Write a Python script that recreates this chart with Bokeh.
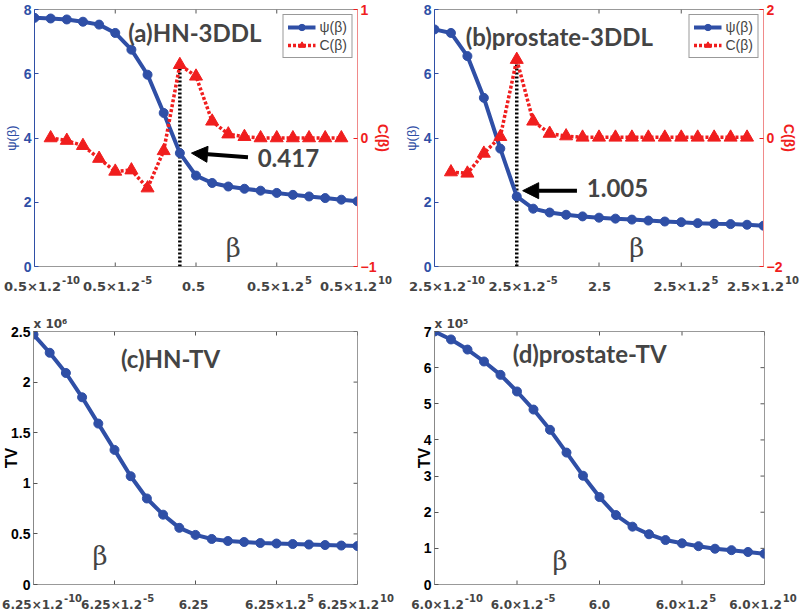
from bokeh.plotting import figure
from bokeh.models import (Range1d, LinearAxis, FixedTicker, Arrow, NormalHead, Label,
                          Legend, LegendItem, NumeralTickFormatter)
from bokeh.layouts import column, row
from bokeh.embed import file_html
from bokeh.resources import INLINE

# ---------------- data ----------------
exps = list(range(-10, 11))          # beta = base * 1.2**exp
c_exps = list(range(-9, 10))
tick_exps = [-10, -5, 0, 5, 10]

hn_psi = [7.74, 7.72, 7.69, 7.62, 7.53, 7.27, 6.75, 5.97, 4.78, 3.53, 2.83,
          2.60, 2.49, 2.42, 2.36, 2.29, 2.23, 2.18, 2.13, 2.08, 2.03]
hn_c = [0.0, -0.02, -0.06, -0.16, -0.26, -0.25, -0.39, -0.10, 0.57, 0.48,
        0.13, 0.03, 0.01, 0.0, 0.0, 0.0, 0.0, 0.0, 0.0]
pr_psi = [7.38, 7.27, 6.55, 5.25, 3.67, 2.18, 1.80, 1.68, 1.61, 1.56, 1.52,
          1.49, 1.46, 1.43, 1.40, 1.38, 1.35, 1.33, 1.32, 1.30, 1.27]
pr_c = [-0.53, -0.55, -0.24, 0.02, 1.22, 0.26, 0.07, 0.03, 0.01, 0.01,
        0.01, 0.01, 0.01, 0.01, 0.01, 0.01, 0.01, 0.01, 0.01]
hn_tv = [2.47, 2.29, 2.09, 1.85, 1.59, 1.33, 1.07, 0.85, 0.69, 0.56, 0.49,
         0.45, 0.43, 0.42, 0.41, 0.405, 0.40, 0.395, 0.39, 0.385, 0.38]   # x 10^6
pr_tv = [7.0, 6.78, 6.50, 6.17, 5.80, 5.34, 4.84, 4.28, 3.65, 3.01, 2.42,
         1.92, 1.60, 1.39, 1.23, 1.14, 1.06, 0.99, 0.95, 0.90, 0.85]      # x 10^5

# tick labels: "base^exponent"
hn3_ticks = ["0.5×1.2^-10", "0.5×1.2^-5", "0.5", "0.5×1.2^5", "0.5×1.2^10"]
pr3_ticks = ["2.5×1.2^-10", "2.5×1.2^-5", "2.5", "2.5×1.2^5", "2.5×1.2^10"]
hntv_ticks = ["6.25×1.2^-10", "6.25×1.2^-5", "6.25", "6.25×1.2^5", "6.25×1.2^10"]
prtv_ticks = ["6.0×1.2^-10", "6.0×1.2^-5", "6.0", "6.0×1.2^5", "6.0×1.2^10"]

BLUE = "#2f4fa6"
RED = "#f01e1e"
TICKFONT = "Liberation Sans"
XFONT = "DejaVu Sans"
TITLEFONT = "Lato"
FIG_W = 400
BOT = 8                                 # bottom border of the panels (room for the "0" label)
BASE_SHIFT = [3, 0, 0, 0, -9]          # px nudges of tick texts, as in the original
ADV = {"-": 0.415, ".": 0.381, "×": 0.838}   # DejaVu Sans Bold advances (em)


def text_w(s, size):
    return sum(ADV.get(ch, 0.696) for ch in s) * size


def tick_strip(labels, bl, br, height, base_px, base_y, sup_y):
    """Row of x tick texts under a panel, aligned with the panel's frame."""
    ppu = (FIG_W - bl - br) / 20.0
    s = figure(width=FIG_W, height=height, output_backend="svg", toolbar_location=None,
               x_range=Range1d(-10 - bl / ppu, 10 + br / ppu), y_range=Range1d(0, height),
               x_axis_type=None, y_axis_type=None, min_border=0)
    s.outline_line_color = None
    s.xgrid.visible = False
    s.ygrid.visible = False
    s.background_fill_color = "white"
    s.border_fill_color = "white"
    for e, lab, d in zip(tick_exps, labels, BASE_SHIFT):
        if "^" in lab:
            b, sup = lab.split("^")
            a = text_w(b, base_px) / 2 + d
            s.add_layout(Label(x=e, y=base_y, x_offset=a, text=b, text_font=XFONT,
                               text_font_style="bold", text_font_size="%dpx" % base_px,
                               text_align="right", text_baseline="middle"))
            s.add_layout(Label(x=e, y=sup_y, x_offset=a + 1, text=sup, text_font=XFONT,
                               text_font_style="bold", text_font_size="10px",
                               text_align="left", text_baseline="middle"))
        else:
            s.add_layout(Label(x=e, y=base_y, x_offset=d, text=lab, text_font=XFONT,
                               text_font_style="bold", text_font_size="%dpx" % base_px,
                               text_align="center", text_baseline="middle"))
    return s


def base_fig(height, y_range, bl, br, bt):
    p = figure(width=FIG_W, height=height, x_range=Range1d(-10, 10), y_range=Range1d(*y_range),
               output_backend="svg", toolbar_location=None,
               min_border_left=bl, min_border_right=br, min_border_top=bt,
               min_border_bottom=BOT)
    p.xgrid.visible = False
    p.ygrid.visible = False
    p.xaxis.visible = False
    p.outline_line_color = "#999999"
    p.background_fill_color = "white"
    p.border_fill_color = "white"
    # inward x tick marks on bottom and top edges
    fh = height - bt - BOT
    y0, y1 = y_range
    tl = (y1 - y0) * 4.0 / fh
    p.segment(x0=tick_exps, y0=[y0] * 5, x1=tick_exps, y1=[y0 + tl] * 5,
              line_color="#555555", line_width=1)
    p.segment(x0=tick_exps, y0=[y1] * 5, x1=tick_exps, y1=[y1 - tl] * 5,
              line_color="#555555", line_width=1)
    return p


def style_y(ax, color, label, size="13px", bold=False, lstandoff=2):
    ax.axis_line_color = color
    ax.major_tick_line_color = color
    ax.major_tick_in = 4
    ax.major_tick_out = 0
    ax.minor_tick_line_color = None
    ax.major_label_text_color = color
    ax.major_label_text_font = TICKFONT
    ax.major_label_text_font_style = "bold"
    ax.major_label_text_font_size = "14px"
    ax.major_label_standoff = 3
    ax.axis_label = label
    ax.axis_label_text_color = color
    ax.axis_label_text_font = TICKFONT
    ax.axis_label_text_font_size = size
    ax.axis_label_text_font_style = "bold" if bold else "normal"
    ax.axis_label_standoff = lstandoff


def top_panel(title, psi, c, c_lim, bl, br, arrow_dx, arrow_len, arrow_dy,
              lab_dy, title_xy, beta_xy, base_val):
    p = base_fig(274, (0, 8), bl, br, 9)
    p.extra_y_ranges = {"c": Range1d(-c_lim, c_lim)}
    ly = p.yaxis[0]
    ly.ticker = FixedTicker(ticks=[0, 2, 4, 6, 8])
    style_y(ly, BLUE, "ψ(β)", lstandoff=2)
    ry = LinearAxis(y_range_name="c", ticker=FixedTicker(ticks=[-c_lim, 0, c_lim]))
    style_y(ry, RED, "C(β)", size="14px", bold=True, lstandoff=-4)
    ry.axis_line_color = "#f08a8a"
    p.add_layout(ry, "right")

    # dotted marker of the maximum of C
    k = max(range(len(c)), key=lambda i: c[i])
    pk = c_exps[k]
    p.segment(x0=[pk], y0=[-c_lim], x1=[pk], y1=[c[k]], y_range_name="c",
              line_color="black", line_width=3.5, line_dash="2 2")

    l1 = p.line(exps, psi, line_color=BLUE, line_width=4)
    s1 = p.scatter(exps, psi, size=9, fill_color=BLUE, line_color=BLUE)
    l2 = p.line(c_exps, c, y_range_name="c", line_color=RED, line_width=3.5, line_dash="3 2")
    s2 = p.scatter(c_exps, c, y_range_name="c", marker="triangle", size=13,
                   fill_color=RED, line_color=RED)

    psi_pk = psi[exps.index(pk)]
    p.add_layout(Arrow(end=NormalHead(size=16, fill_color="black", line_color="black"),
                       x_start=pk + arrow_dx + arrow_len, y_start=psi_pk + arrow_dy[0],
                       x_end=pk + arrow_dx, y_end=psi_pk + arrow_dy[1],
                       line_color="black", line_width=4))
    p.add_layout(Label(x=pk + arrow_dx + arrow_len + 0.6, y=psi_pk + lab_dy,
                       text="%.3f" % (base_val * 1.2 ** pk), text_font=TITLEFONT,
                       text_font_style="bold", text_font_size="24px", text_baseline="middle"))
    p.add_layout(Label(x=title_xy[0], y=title_xy[1], text=title, text_font=TITLEFONT,
                       text_font_style="bold", text_font_size="24px", text_baseline="middle"))
    p.add_layout(Label(x=beta_xy[0], y=beta_xy[1], text="β", text_font="DejaVu Serif",
                       text_font_size="26px", text_baseline="middle", text_align="center"))

    leg = Legend(items=[LegendItem(label="ψ(β)", renderers=[l1, s1]),
                        LegendItem(label="C(β)", renderers=[l2, s2])],
                 location="top_right", border_line_color="#333333", border_line_width=1,
                 label_text_font=TICKFONT, label_text_font_size="14px",
                 glyph_width=28, glyph_height=16, spacing=2, padding=4, margin=5,
                 label_standoff=4, background_fill_alpha=1, label_height=16)
    p.add_layout(leg)
    return p


def bottom_panel(title, tv, ymax, yticks, mult, bl, br, title_xy, beta_xy):
    p = base_fig(290, (0, ymax), bl, br, 29)
    p.title.text = mult
    p.title.align = "left"
    p.title.text_font = XFONT
    p.title.text_font_size = "12px"
    p.title.text_font_style = "bold"
    p.title.standoff = 2
    p.title.offset = 0
    ly = p.yaxis[0]
    ly.ticker = FixedTicker(ticks=yticks)
    ly.formatter = NumeralTickFormatter(format="0.[0]")
    style_y(ly, "black", "TV", size="16px", bold=True, lstandoff=-12)
    ly.axis_line_color = "#888888"
    ly.major_tick_line_color = "#555555"
    # inward y ticks on the right edge
    tlx = 20 * 4.0 / (FIG_W - bl - br)
    p.segment(x0=[10] * len(yticks), y0=yticks, x1=[10 - tlx] * len(yticks), y1=yticks,
              line_color="#555555", line_width=1)
    p.line(exps, tv, line_color=BLUE, line_width=4)
    p.scatter(exps, tv, size=9, fill_color=BLUE, line_color=BLUE)
    p.add_layout(Label(x=title_xy[0], y=title_xy[1], text=title, text_font=TITLEFONT,
                       text_font_style="bold", text_font_size="24px", text_baseline="middle"))
    p.add_layout(Label(x=beta_xy[0], y=beta_xy[1], text="β", text_font="DejaVu Serif",
                       text_font_size="26px", text_baseline="middle", text_align="center"))
    return p


pa = top_panel("(a)HN-3DDL", hn_psi, hn_c, 1, 29, 43,
               0.72, 3.5, (-0.13, 0.0), -0.15, (-4.2, 7.27), (2.3, 0.57), 0.5)
pb = top_panel("(b)prostate-3DDL", pr_psi, pr_c, 2, 34, 36,
               0.36, 3.3, (0.18, 0.18), 0.26, (-8.1, 7.15), (2.3, 0.57), 2.5)
sa = tick_strip(hn3_ticks, 29, 43, 28, 13, 15.6, 22.3)
sb = tick_strip(pr3_ticks, 34, 36, 28, 13, 15.6, 22.3)
pc = bottom_panel("(c)HN-TV", hn_tv, 2.5, [0, 0.5, 1, 1.5, 2, 2.5], "x 10⁶",
                  29, 43, (-4.6, 2.23), (-5.9, 0.28))
pd = bottom_panel("(d)prostate-TV", pr_tv, 7, [0, 1, 2, 3, 4, 5, 6, 7], "x 10⁵",
                  34, 36, (-5.26, 6.38), (-2.4, 0.65))
sc = tick_strip(hntv_ticks, 29, 43, 20, 12, 7.6, 14.2)
sd = tick_strip(prtv_ticks, 34, 36, 20, 12, 7.6, 14.2)

layout = column(row(pa, pb), row(sa, sb), row(pc, pd), row(sc, sd))
open("out.html", "w").write(file_html(layout, INLINE))
